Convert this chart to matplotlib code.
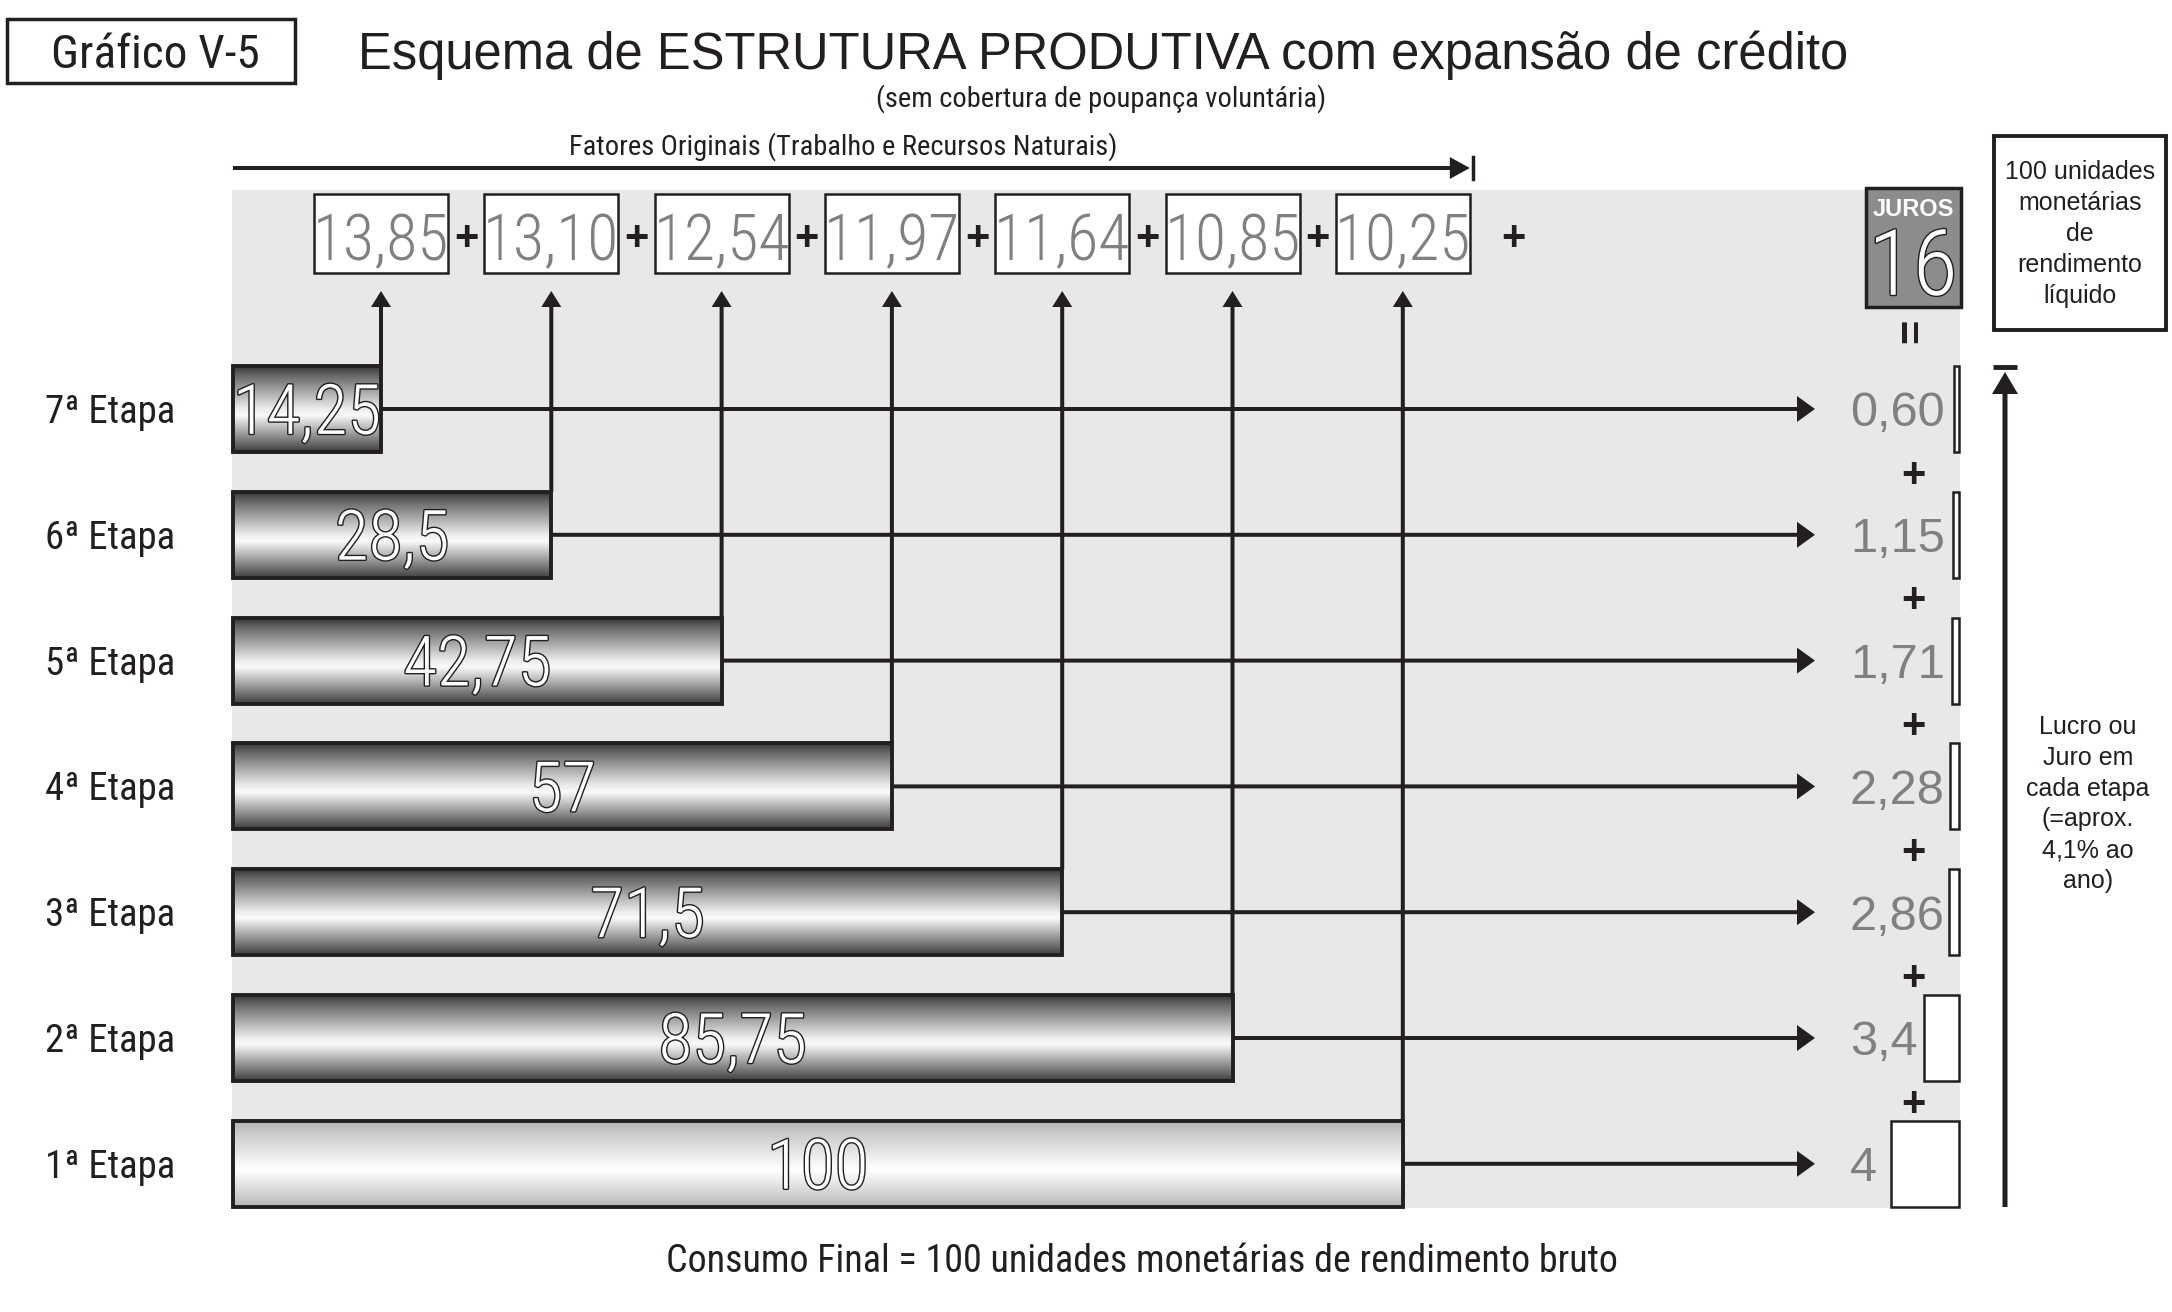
import numpy as np
import matplotlib.pyplot as plt
import matplotlib.patheffects as pe
from matplotlib.patches import Rectangle, FancyArrow

# values
etapas = ['7ª Etapa', '6ª Etapa', '5ª Etapa', '4ª Etapa', '3ª Etapa', '2ª Etapa', '1ª Etapa']
produto = [14.25, 28.5, 42.75, 57, 71.5, 85.75, 100]
fatores = [13.85, 13.10, 12.54, 11.97, 11.64, 10.85, 10.25]
juros = ['0,60', '1,15', '1,71', '2,28', '2,86', '3,4', '4']
juros_total = 16

# layout (pixels of the 2172x1312 figure)
W, H = 2172, 1312
PANEL = (232, 190, 1960, 1208)
BAR_X0 = 233
COL_X0, COL_DX = 381, 170.3
ROW_Y0, ROW_DY = 409, 125.8
BAR_H = 86
BOX_W, BOX_TOP, BOX_H = 134, 194, 79
TIP_X = 1815
JUROS_X = 1850
RIGHT_X = 1959
juros_box_w = [5, 6, 7, 9, 10, 35, 68]

K = '#231f20'
GRAY = '#808080'
NARROW = ['Roboto Condensed', 'Archivo Narrow', 'PT Sans Narrow', 'IBM Plex Sans Condensed', 'DejaVu Sans']
REG = ['Liberation Sans', 'Arimo', 'DejaVu Sans']
PX = 100 / 72


def br(v, nd=None):
    s = f'{v:.{nd}f}' if nd is not None else f'{v:g}'
    return s.replace('.', ',')


def vtext(x, yc, s, fs, k=0.358, **kw):
    # put glyph middle (digit/cap height) at yc
    return ax.text(x, yc + k * fs * PX, s, va='baseline', fontsize=fs, **kw)


def arrow(x, y, dx, dy, w=4, hw=24, hl=18):
    ax.add_patch(FancyArrow(x, y, dx, dy, width=w, head_width=hw, head_length=hl,
                            length_includes_head=True, fc=K, ec='none', zorder=2))


def grad(levels):
    t = np.linspace(0, 1, 256)
    g = np.interp(t, [0, .12, .5, .57, .88, 1], levels)
    return g[:, None]


fig = plt.figure(figsize=(W / 100, H / 100), dpi=100)
ax = fig.add_axes([0, 0, 1, 1])

outline = [pe.withStroke(linewidth=2.0, foreground=K)]

# header
ax.add_patch(Rectangle((7, 19), 288, 64, fill=False, ec=K, lw=2.5))
vtext(155, 51, 'Gráfico V-5', 34, family=NARROW, ha='center', color=K)
vtext(1103, 51, 'Esquema de ESTRUTURA PRODUTIVA com expansão de crédito', 36.5,
      family=REG, ha='center', color=K)
vtext(1101, 96, '(sem cobertura de poupança voluntária)', 20.5, family=NARROW, ha='center', color=K)
vtext(843, 144, 'Fatores Originais (Trabalho e Recursos Naturais)', 20.5, family=NARROW,
      ha='center', color=K)
x_end = COL_X0 + 6 * COL_DX + BOX_W / 2
arrow(BAR_X0, 168, x_end - BAR_X0, 0, w=4, hw=22, hl=20)
ax.plot([x_end + 3, x_end + 3], [157, 179], color=K, lw=2.5)

# grey panel
ax.add_patch(Rectangle((PANEL[0], PANEL[1]), PANEL[2] - PANEL[0], PANEL[3] - PANEL[1],
                       fc='#e8e8e8', ec='none', zorder=0))

# factor boxes
box_yc = BOX_TOP + BOX_H / 2
for i, f in enumerate(fatores):
    xc = COL_X0 + i * COL_DX
    ax.add_patch(Rectangle((xc - BOX_W / 2, BOX_TOP), BOX_W, BOX_H, fc='white', ec=K, lw=1.8, zorder=3))
    vtext(xc, box_yc + 4, br(f, 2), 46, family=NARROW, weight='light', ha='center',
          color=GRAY, zorder=4)
    px = xc + COL_DX / 2 if i < len(fatores) - 1 else xc + 0.65 * COL_DX
    vtext(px, box_yc + 2, '+', 30, k=0.355, family=REG, weight='bold', ha='center', color=K)

# stages
for i, (lab, v) in enumerate(zip(etapas, produto)):
    yc = ROW_Y0 + i * ROW_DY
    xr = COL_X0 + i * COL_DX
    top, bot = yc - BAR_H / 2, yc + BAR_H / 2
    levels = [0.7, 0.78, 0.97, 1.0, 0.8, 0.7] if v == 100 else [0.22, 0.42, 0.93, 0.98, 0.45, 0.24]
    ax.imshow(grad(levels), cmap='gray', vmin=0, vmax=1, aspect='auto',
              extent=(BAR_X0, xr, bot, top), interpolation='bilinear', zorder=3)
    ax.add_patch(Rectangle((BAR_X0, top), xr - BAR_X0, BAR_H, fill=False, ec=K, lw=2.8, zorder=4))
    vtext((BAR_X0 + xr) / 2, yc, br(v), 50, family=NARROW, weight='light', ha='center',
          color='white', path_effects=outline, zorder=5)
    vtext(175, yc, lab, 28, family=NARROW, ha='right', color=K)

    arrow(xr, yc, TIP_X - xr, 0, w=4, hw=26, hl=18)
    arrow(xr, top, 0, (BOX_TOP + BOX_H + 18) - top, w=4, hw=20, hl=16)

    vtext(JUROS_X, yc, juros[i], 35, family=REG, ha='left', color=GRAY)
    w = juros_box_w[i]
    ax.add_patch(Rectangle((RIGHT_X - w, top), w, BAR_H, fc='white', ec=K, lw=1.8, zorder=3))
    if i < len(etapas) - 1:
        vtext(1913, yc + ROW_DY / 2, '+', 30, k=0.355, family=REG, weight='bold',
              ha='center', color=K)

# total interest
ax.add_patch(Rectangle((1866, 188), 95, 119, fc='#8c8c8c', ec=K, lw=2.5, zorder=3))
vtext(1913, 208, 'JUROS', 17, family=REG, weight='bold', ha='center', color='white', zorder=4)
vtext(1913, 262, str(juros_total), 66, family=NARROW, weight='light', ha='center',
      color='white', path_effects=outline, zorder=4)
ax.text(1913, 331, '=', fontsize=30, family=REG, weight='bold', rotation=90,
        ha='center', va='center', color=K)

# right side notes
ax.add_patch(Rectangle((1994, 136), 172, 194, fill=False, ec=K, lw=2.8))
ax.text(2080, 234, '100 unidades\nmonetárias\nde\nrendimento\nlíquido', fontsize=18,
        family=REG, ha='center', va='center', multialignment='center', linespacing=1.36, color=K)
arrow(2005, 1207, 0, 372 - 1207, w=5, hw=26, hl=22)
ax.plot([1993, 2017], [367, 367], color=K, lw=3.5, solid_capstyle='butt')
ax.text(2088, 804, 'Lucro ou\nJuro em\ncada etapa\n(=aprox.\n4,1% ao\nano)', fontsize=18,
        family=REG, ha='center', va='center', multialignment='center', linespacing=1.36, color=K)

vtext(1142, 1258, 'Consumo Final = 100 unidades monetárias de rendimento bruto', 27.4,
      family=NARROW, ha='center', color=K)

ax.set_xlim(0, W)
ax.set_ylim(H, 0)
ax.axis('off')
fig.savefig('out.png', dpi=100)
